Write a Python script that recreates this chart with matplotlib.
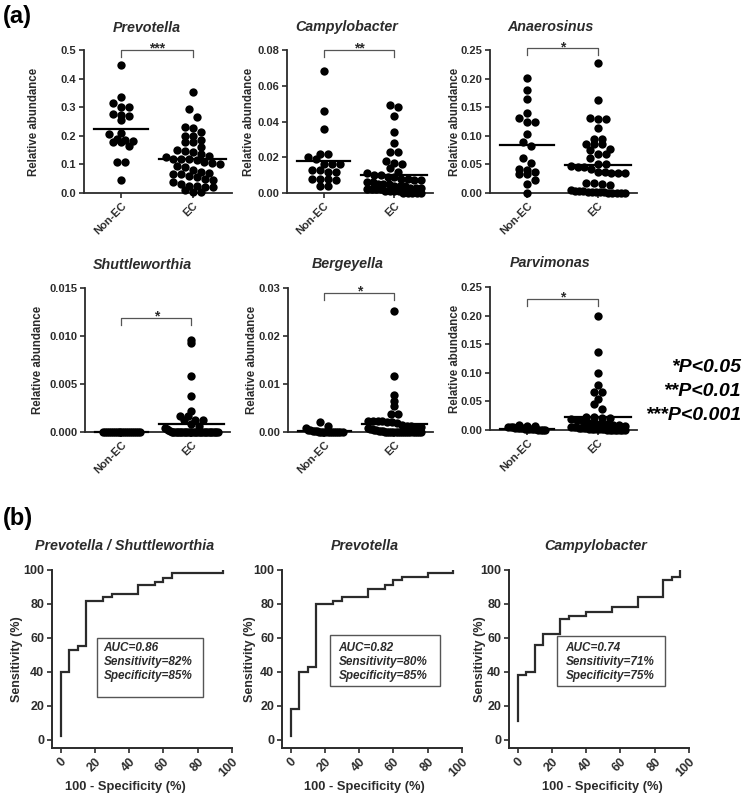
import numpy as np
import matplotlib.pyplot as plt
from matplotlib.patches import Rectangle

plt.rcParams['font.family'] = ['Liberation Sans', 'DejaVu Sans']
plt.rcParams['font.weight'] = 'bold'
plt.rcParams['axes.labelweight'] = 'bold'

groups = ['Non-EC', 'EC']

# relative abundance per sample (20 Non-EC, 45 EC)
prevotella_nonec = [0.448, 0.335, 0.313, 0.300, 0.300, 0.275, 0.272, 0.270, 0.255, 0.210,
                    0.208, 0.188, 0.185, 0.182, 0.180, 0.178, 0.165, 0.108, 0.107, 0.047]
prevotella_ec = [0.352, 0.293, 0.267, 0.232, 0.228, 0.215, 0.200, 0.198, 0.185, 0.180,
                 0.178, 0.160, 0.152, 0.148, 0.145, 0.135, 0.130, 0.125, 0.120, 0.118,
                 0.118, 0.115, 0.110, 0.105, 0.100, 0.095, 0.090, 0.080, 0.075, 0.070,
                 0.068, 0.065, 0.060, 0.055, 0.050, 0.045, 0.040, 0.030, 0.025, 0.025,
                 0.022, 0.020, 0.012, 0.005, 0.002]

campylobacter_nonec = [0.068, 0.046, 0.036, 0.022, 0.022, 0.020, 0.019, 0.016, 0.016, 0.016,
                       0.013, 0.013, 0.012, 0.012, 0.008, 0.008, 0.008, 0.007, 0.004, 0.004]
campylobacter_ec = [0.049, 0.048, 0.043, 0.034, 0.028, 0.023, 0.023, 0.018, 0.017, 0.016,
                    0.014, 0.012, 0.011, 0.010, 0.010, 0.009, 0.009, 0.008, 0.008, 0.007,
                    0.007, 0.006, 0.006, 0.005, 0.005, 0.005, 0.004, 0.004, 0.004, 0.003,
                    0.003, 0.003, 0.002, 0.002, 0.002, 0.002, 0.001, 0.001, 0.001, 0.001,
                    0.0, 0.0, 0.0, 0.0, 0.0]

anaerosinus_nonec = [0.201, 0.180, 0.165, 0.139, 0.131, 0.125, 0.124, 0.104, 0.090, 0.083,
                     0.062, 0.053, 0.042, 0.040, 0.037, 0.034, 0.033, 0.022, 0.015, 0.000]
anaerosinus_ec = [0.228, 0.162, 0.131, 0.130, 0.130, 0.113, 0.095, 0.095, 0.085, 0.085,
                  0.085, 0.077, 0.075, 0.068, 0.068, 0.062, 0.050, 0.050, 0.048, 0.046,
                  0.046, 0.042, 0.037, 0.037, 0.035, 0.035, 0.035, 0.018, 0.018, 0.016,
                  0.014, 0.005, 0.004, 0.003, 0.003, 0.002, 0.002, 0.001, 0.001, 0.001,
                  0.0, 0.0, 0.0, 0.0, 0.0]

shuttleworthia_nonec = [0.0] * 20
shuttleworthia_ec = [0.0096, 0.0093, 0.0058, 0.0037, 0.0022, 0.0017, 0.0017, 0.0013, 0.0013,
                     0.0012, 0.0008, 0.0006, 0.0004, 0.0003, 0.0002, 0.0001] + [0.0] * 29

bergeyella_nonec = [0.0020, 0.0012, 0.0008, 0.0005, 0.0004, 0.0003, 0.0002, 0.0002, 0.0001,
                    0.0001] + [0.0] * 10
bergeyella_ec = [0.0253, 0.0117, 0.0077, 0.0064, 0.0054, 0.0037, 0.0037, 0.0023, 0.0023,
                 0.0022, 0.0022, 0.0021, 0.0020, 0.0018, 0.0015, 0.0013, 0.0012, 0.0010,
                 0.0010, 0.0008, 0.0007, 0.0006, 0.0005, 0.0004, 0.0003, 0.0002, 0.0002,
                 0.0001, 0.0001] + [0.0] * 16

parvimonas_nonec = [0.008, 0.007, 0.007, 0.006, 0.005, 0.005, 0.004, 0.004, 0.003, 0.003,
                    0.002, 0.002, 0.002, 0.001, 0.001, 0.001, 0.0, 0.0, 0.0, 0.0]
parvimonas_ec = [0.200, 0.136, 0.100, 0.078, 0.067, 0.066, 0.054, 0.046, 0.036, 0.022,
                 0.022, 0.021, 0.021, 0.020, 0.018, 0.015, 0.013, 0.012, 0.011, 0.010,
                 0.009, 0.008, 0.007, 0.006, 0.005, 0.005, 0.004, 0.004, 0.003, 0.003,
                 0.002, 0.002, 0.002, 0.001, 0.001, 0.001, 0.001] + [0.0] * 8

# group lines as drawn (Non-EC, EC)
prevotella_line = [0.223, 0.118]
campylobacter_line = [0.0177, 0.0102]
anaerosinus_line = [0.084, 0.049]
shuttleworthia_line = [0.0, 0.0008]
bergeyella_line = [0.0002, 0.0017]
parvimonas_line = [0.002, 0.023]

prevotella_ticks = [0.0, 0.1, 0.2, 0.3, 0.4, 0.5]
campylobacter_ticks = [0.0, 0.02, 0.04, 0.06, 0.08]
anaerosinus_ticks = [0.0, 0.05, 0.10, 0.15, 0.20, 0.25]
shuttleworthia_ticks = [0.0, 0.005, 0.010, 0.015]
bergeyella_ticks = [0.0, 0.01, 0.02, 0.03]
parvimonas_ticks = [0.0, 0.05, 0.10, 0.15, 0.20, 0.25]

stars = ['***', '**', '*', '*', '*', '*']

# ROC curves (100 - specificity, sensitivity)
roc1_fpr = [0, 0, 5, 10, 15, 25, 30, 45, 55, 60, 65, 95]
roc1_tpr = [2, 40, 53, 55, 82, 84, 86, 91, 93, 95, 98, 100]
roc2_fpr = [0, 0, 5, 10, 15, 25, 30, 45, 55, 60, 65, 80, 95]
roc2_tpr = [2, 18, 40, 43, 80, 82, 84, 89, 91, 94, 96, 98, 100]
roc3_fpr = [0, 0, 5, 10, 15, 25, 30, 40, 55, 70, 85, 90, 95]
roc3_tpr = [11, 38, 40, 56, 62, 71, 73, 75, 78, 84, 94, 96, 100]
roc_titles = ['Prevotella / Shuttleworthia', 'Prevotella', 'Campylobacter']
roc_stats = ['AUC=0.86\nSensitivity=82%\nSpecificity=85%',
             'AUC=0.82\nSensitivity=80%\nSpecificity=85%',
             'AUC=0.74\nSensitivity=71%\nSpecificity=75%']

W, H = 749, 798
DARK = '#2b2b2b'


def px_rect(l, t, r, b):
    return [l / W, 1 - b / H, (r - l) / W, (b - t) / H]


def swarm(center, vals, ymax, h_px, max_half, d_px=8.0, unit_px=71.0):
    vals = np.asarray(vals, float)
    rows = np.round(vals / ymax * h_px / d_px).astype(int)
    xs = np.full(vals.shape, float(center))
    step = d_px / unit_px
    for r in np.unique(rows):
        idx = np.where(rows == r)[0]
        n = len(idx)
        if n > 1:
            sp = min(step, 2 * max_half / (n - 1))
            xs[idx] = center + (np.arange(n) - (n - 1) / 2) * sp
    return xs


fig = plt.figure(figsize=(W / 100, H / 100), dpi=100)

scatter = [
    ('Prevotella', prevotella_nonec, prevotella_ec, prevotella_line, prevotella_ticks, '{:.1f}'),
    ('Campylobacter', campylobacter_nonec, campylobacter_ec, campylobacter_line, campylobacter_ticks, '{:.2f}'),
    ('Anaerosinus', anaerosinus_nonec, anaerosinus_ec, anaerosinus_line, anaerosinus_ticks, '{:.2f}'),
    ('Shuttleworthia', shuttleworthia_nonec, shuttleworthia_ec, shuttleworthia_line, shuttleworthia_ticks, '{:.3f}'),
    ('Bergeyella', bergeyella_nonec, bergeyella_ec, bergeyella_line, bergeyella_ticks, '{:.2f}'),
    ('Parvimonas', parvimonas_nonec, parvimonas_ec, parvimonas_line, parvimonas_ticks, '{:.2f}'),
]
rects = [px_rect(84, 50, 232, 193), px_rect(287, 50, 433, 193), px_rect(490, 50, 637, 193),
         px_rect(85, 288, 230, 432), px_rect(288, 288, 433, 432), px_rect(490, 287, 637, 430)]
title_pos = [(147, 28), (347, 27), (550, 27), (142, 265), (348, 264), (550, 263)]
bracket_top = [0.5, 0.08, 0.253, 0.0119, 0.029, 0.229]
ylab_x = [-0.30, -0.22, -0.20, -0.28, -0.21, -0.20]

for i, (name, v_n, v_e, line, ticks, fmt) in enumerate(scatter):
    ax = fig.add_axes(rects[i])
    ymax = ticks[-1]
    h_px = rects[i][3] * H
    ax.set_xlim(-0.52, 1.55)
    ax.set_ylim(0, ymax)
    for g, vals, half, lhalf in [(0, v_n, 0.26, 0.38), (1, v_e, 0.38, 0.47)]:
        xs = swarm(g, vals, ymax, h_px, half)
        ax.plot(xs, vals, 'o', ms=6, color='black', mec='none', clip_on=False, zorder=3)
        ax.plot([g - lhalf, g + lhalf], [line[g]] * 2, color='black', lw=1.6,
                clip_on=False, zorder=4)
    # significance bracket
    yt = bracket_top[i]
    yb = yt - 7 / h_px * ymax
    ax.plot([0, 0, 1, 1], [yb, yt, yt, yb], color='#555555', lw=0.9, clip_on=False)
    ax.annotate(stars[i], (0.5, yt), xytext=(0, -2), textcoords='offset points',
                ha='center', va='baseline', fontsize=10, color=DARK, annotation_clip=False)

    for s in ['top', 'right']:
        ax.spines[s].set_visible(False)
    for s in ['left', 'bottom']:
        ax.spines[s].set_linewidth(1.3)
        ax.spines[s].set_color(DARK)
    ax.set_yticks(ticks)
    ax.set_yticklabels([fmt.format(t) for t in ticks], fontsize=8, color=DARK)
    ax.set_xticks([0, 1])
    ax.set_xticklabels(groups, rotation=45, ha='right', rotation_mode='anchor',
                       fontsize=8, color=DARK)
    ax.tick_params(direction='out', length=3.5, width=1.2, color=DARK, pad=2)
    ax.set_ylabel('Relative abundance', fontsize=8.3, color=DARK)
    ax.yaxis.set_label_coords(ylab_x[i], 0.5)
    tx, ty = title_pos[i]
    fig.text(tx / W, 1 - ty / H, name, ha='center', va='center', fontsize=10.3,
             style='italic', weight='bold', color=DARK)

# p-value legend
for txt, y in [('*P<0.05', 368), ('**P<0.01', 392), ('***P<0.001', 415)]:
    fig.text(741 / W, 1 - y / H, txt, ha='right', va='center', fontsize=14,
             style='italic', weight='bold', color='black')

fig.text(3 / W, 1 - 17 / H, '(a)', ha='left', va='center', fontsize=17, weight='bold')
fig.text(3 / W, 1 - 519 / H, '(b)', ha='left', va='center', fontsize=17, weight='bold')

# ROC panels
rocs = [(roc1_fpr, roc1_tpr), (roc2_fpr, roc2_tpr), (roc3_fpr, roc3_tpr)]
roc_rects = [px_rect(52, 570, 232, 748), px_rect(282, 570, 462, 748), px_rect(509, 570, 689, 748)]
roc_title_x = [125, 365, 596]
# stats box: (left, right, bottom, top) in data units, text left edge and centre
roc_box = [(21, 83, 25, 60), (23, 87, 31.5, 61.5), (23, 86, 31.5, 61)]
roc_text_xy = [(25, 46), (28, 46), (28, 46)]
roc_ylab_x = [-0.16, -0.145, -0.13]
roc_xlab_x = [0.405, 0.46, 0.52]

for i, (fpr, tpr) in enumerate(rocs):
    ax = fig.add_axes(roc_rects[i])
    ax.step(fpr, tpr, where='post', color=DARK, lw=1.6, solid_joinstyle='miter')
    ax.set_xlim(-5, 100)
    ax.set_ylim(-5, 100)
    for s in ['top', 'right']:
        ax.spines[s].set_visible(False)
    for s in ['left', 'bottom']:
        ax.spines[s].set_linewidth(1.4)
        ax.spines[s].set_color(DARK)
    ticks = [0, 20, 40, 60, 80, 100]
    ax.set_xticks(ticks)
    ax.set_yticks(ticks)
    ax.set_xticklabels([str(t) for t in ticks], rotation=45, ha='right',
                       rotation_mode='anchor', fontsize=9, color=DARK)
    ax.set_yticklabels([str(t) for t in ticks], fontsize=9, color=DARK)
    ax.tick_params(direction='out', length=3.5, width=1.2, color=DARK, pad=2)
    ax.set_ylabel('Sensitivity (%)', fontsize=9, color=DARK)
    ax.yaxis.set_label_coords(roc_ylab_x[i], 0.5)
    ax.set_xlabel('100 - Specificity (%)', fontsize=9.3, color=DARK)
    ax.xaxis.set_label_coords(roc_xlab_x[i], -0.185)
    l, r, b, t = roc_box[i]
    ax.add_patch(Rectangle((l, b), r - l, t - b, fill=False, ec='#555555', lw=1.0))
    tx, ty = roc_text_xy[i]
    ax.text(tx, ty, roc_stats[i], ha='left', va='center', fontsize=8.5,
            style='italic', weight='bold', color=DARK, linespacing=1.22)
    fig.text(roc_title_x[i] / W, 1 - 546 / H, roc_titles[i], ha='center', va='center',
             fontsize=10.3, style='italic', weight='bold', color=DARK)

fig.savefig('out.png', dpi=100)
